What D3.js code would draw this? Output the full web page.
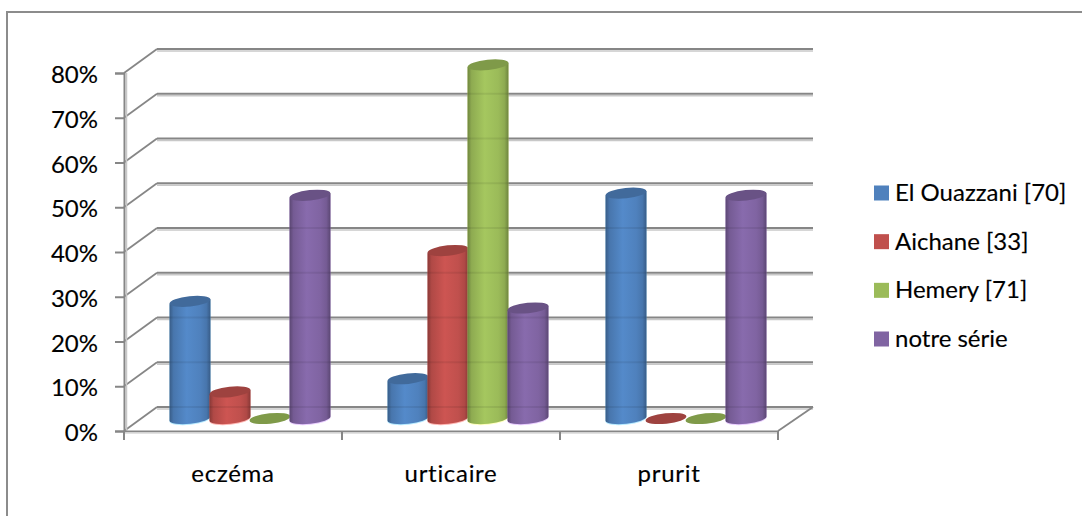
<!DOCTYPE html>
<html>
<head>
<meta charset="utf-8">
<script src="https://cdn.jsdelivr.net/npm/d3@7"></script>
<style>
html,body{margin:0;padding:0;background:#fff;overflow:hidden}
text{font-family:Lato,"Open Sans",sans-serif;fill:#000;stroke:#000;stroke-width:0.15px}
</style>
</head>
<body>
<svg id="chart" width="1082" height="516"></svg>
<script>
const categories = ["eczéma", "urticaire", "prurit"];
const seriesNames = ["El Ouazzani [70]", "Aichane [33]", "Hemery [71]", "notre série"];
const elOuazzani = [26.5, 9, 51];
const aichane = [6, 38, 0];
const hemery = [0, 80, 0];
const notreSerie = [50.5, 25, 50.5];
const tickValues = [0, 10, 20, 30, 40, 50, 60, 70, 80];
const seriesColors = ["#4f81bd", "#c0504d", "#9bbb59", "#8064a2"];
const seriesValues = [elOuazzani, aichane, hemery, notreSerie];

const svg = d3.select("#chart");
const defs = svg.append("defs");

// Frame around the chart area; its right and bottom edges run off the page
svg.append("rect").attr("x", 7).attr("y", 12).attr("width", 1090).attr("height", 520)
  .attr("fill", "#fff").attr("stroke", "#8c8c8c").attr("stroke-width", 2);

// Front plane of the 3D box and the depth offset of the back wall
const x = d3.scaleBand().domain(categories).range([124, 778]);
const y = d3.scaleLinear().domain([0, 80]).range([431, 73]);
const depth = { dx: 33, dy: -24 };
const wallRight = 813;

const gridColor = "#868686", gridShadow = "#c8c8c8";

// Back wall gridlines with a pale lower edge, and their diagonals on the side wall
const grid = svg.append("g");
grid.selectAll("line.shadow").data(tickValues).join("line")
  .attr("x1", 124 + depth.dx).attr("x2", wallRight)
  .attr("y1", d => y(d) + depth.dy + 2).attr("y2", d => y(d) + depth.dy + 2)
  .attr("stroke", gridShadow).attr("stroke-width", 1.5);
grid.selectAll("line.wall").data(tickValues).join("line")
  .attr("x1", 124 + depth.dx).attr("x2", wallRight)
  .attr("y1", d => y(d) + depth.dy).attr("y2", d => y(d) + depth.dy)
  .attr("stroke", gridColor).attr("stroke-width", 2);
grid.selectAll("line.side").data(tickValues).join("line")
  .attr("x1", 124).attr("x2", 124 + depth.dx)
  .attr("y1", d => y(d)).attr("y2", d => y(d) + depth.dy)
  .attr("stroke", gridColor).attr("stroke-width", 1.8);

// Floor edge on the right side
svg.append("line").attr("x1", 778).attr("x2", wallRight).attr("y1", y(0)).attr("y2", y(0) + depth.dy)
  .attr("stroke", gridColor).attr("stroke-width", 1.8);

// Vertical value axis
const yAxis = d3.axisLeft(y).tickValues(tickValues).tickFormat(d => d + "%").tickSize(9).tickPadding(17);
const yG = svg.append("g").attr("transform", "translate(124,0)").call(yAxis);
yG.select(".domain").attr("stroke", gridColor).attr("stroke-width", 2);
yG.selectAll(".tick line").attr("stroke", gridColor).attr("stroke-width", 2);
yG.selectAll("text").attr("font-size", 24).attr("dy", "0.4em").style("font-family", "Lato");
svg.append("line").attr("x1", 126.5).attr("x2", 126.5).attr("y1", y(80)).attr("y2", y(0))
  .attr("stroke", gridShadow).attr("stroke-width", 1.5);

// Floor line with category separators and labels
const xAxis = d3.axisBottom(x).tickSize(0).tickPadding(34);
const xG = svg.append("g").attr("transform", `translate(0,${y(0)})`).call(xAxis);
xG.select(".domain").attr("stroke", gridColor).attr("stroke-width", 2);
xG.selectAll("text").attr("font-size", 24).style("font-family", "Lato").attr("letter-spacing", 0.7);
svg.append("line").attr("x1", 124).attr("x2", 778).attr("y1", y(0) + 2).attr("y2", y(0) + 2)
  .attr("stroke", "#d8d8d8").attr("stroke-width", 1.5);
svg.append("g").selectAll("line").data(categories.map(c => x(c)).concat([778])).join("line")
  .attr("x1", d => d).attr("x2", d => d).attr("y1", y(0)).attr("y2", y(0) + 9)
  .attr("stroke", gridColor).attr("stroke-width", 2);

// Horizontal shading for each cylinder, dark at the edges and bright near the middle
seriesColors.forEach((c, i) => {
  const g = defs.append("linearGradient").attr("id", "cyl" + i);
  const dark = d3.color(c).darker(0.95), mid = d3.color(c).darker(0.25);
  [[0, dark], [0.1, mid], [0.42, d3.color(c).brighter(0.18)], [0.75, c], [0.9, mid], [1, dark]].forEach(([o, col]) => {
    g.append("stop").attr("offset", o).attr("stop-color", col);
  });
});

// Position of the cylinders inside each category band
const inner = d3.scaleBand().domain(d3.range(4)).range([46, 206]).paddingInner(0);
const floorY = 418.5;
const unit = v => v * 4.42;
const rx = 20.5, ry = 5.2, tilt = -6;
const tan = Math.tan(tilt * Math.PI / 180);

const bars = svg.append("g");
categories.forEach((cat, ci) => {
  seriesValues.forEach((vals, si) => {
    const v = vals[ci];
    const cx = x(cat) + inner(si) + inner.bandwidth() / 2;
    const topY = floorY - unit(v);
    const col = seriesColors[si];
    const g = bars.append("g");
    const lt = topY - tan * rx, rt = topY + tan * rx;
    const lb = floorY - tan * rx, rb = floorY + tan * rx;
    if (v > 0) {
      const body = `M${cx - rx},${lt} L${cx - rx},${lb} A${rx},${ry} ${tilt} 0 0 ${cx + rx},${rb} L${cx + rx},${rt} Z`;
      // pale rim below the base, then the shaded body
      g.append("path").attr("d", body).attr("transform", "translate(0,1)")
        .attr("fill", d3.color(col).brighter(1.5)).attr("fill-opacity", 0.6);
      g.append("path").attr("d", body).attr("fill", `url(#cyl${si})`);
    }
    g.append("ellipse").attr("cx", cx).attr("cy", topY).attr("rx", rx).attr("ry", ry)
      .attr("transform", `rotate(${tilt} ${cx} ${topY})`)
      .attr("fill", d3.color(col).darker(0.55));

    // Back wall gridlines showing faintly through the translucent body
    if (v > 0) {
      g.selectAll("line").data(tickValues.filter(t => y(t) + depth.dy > topY + ry && y(t) + depth.dy < floorY)).join("line")
        .attr("x1", cx - rx).attr("x2", cx + rx)
        .attr("y1", t => y(t) + depth.dy).attr("y2", t => y(t) + depth.dy)
        .attr("stroke", "#000").attr("stroke-opacity", 0.07).attr("stroke-width", 2);
    }
  });
});

// Legend on the right
const legend = svg.append("g");
const legendY = d3.scalePoint().domain(seriesNames).range([193, 339]);
seriesNames.forEach((name, i) => {
  legend.append("rect").attr("x", 874).attr("y", legendY(name) - 7.5).attr("width", 15).attr("height", 15)
    .attr("fill", seriesColors[i]);
  legend.append("text").attr("x", 895).attr("y", legendY(name) + 8)
    .attr("font-size", 24).text(name);
});
</script>
</body>
</html>
